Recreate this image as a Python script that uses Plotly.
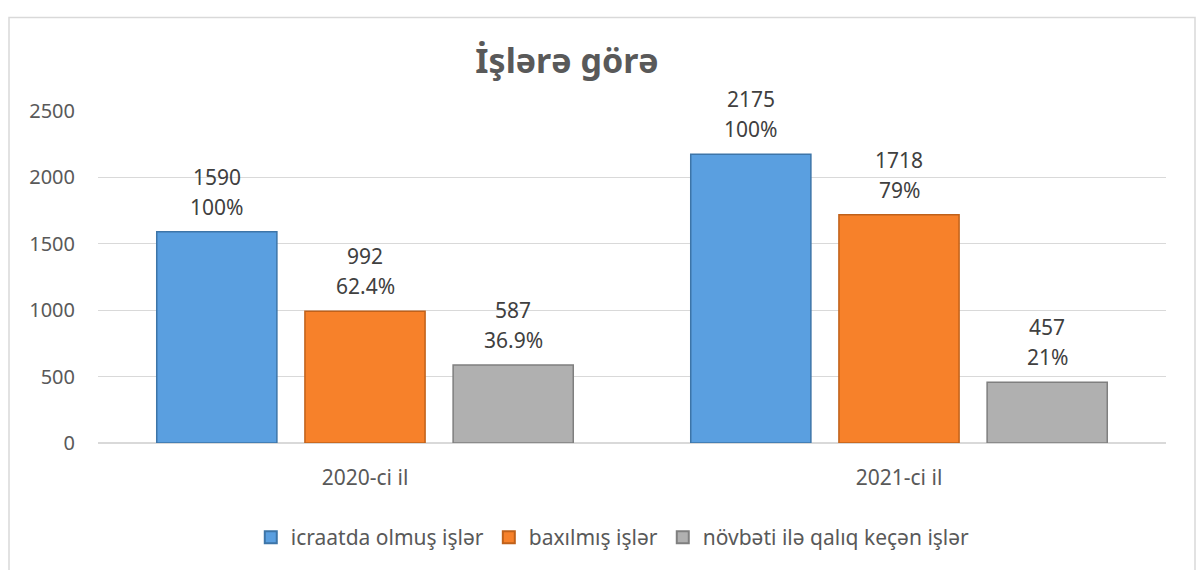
import plotly.graph_objects as go

categories = ["2020-ci il", "2021-ci il"]
series_names = ["icraatda olmuş işlər", "baxılmış işlər", "növbəti ilə qalıq keçən işlər"]
values_icraat = [1590, 2175]
values_baxilmis = [992, 1718]
values_qaliq = [587, 457]
pct_icraat = ["100%", "100%"]
pct_baxilmis = ["62.4%", "79%"]
pct_qaliq = ["36.9%", "21%"]
y_ticks = [0, 500, 1000, 1500, 2000, 2500]

all_values = [values_icraat, values_baxilmis, values_qaliq]
all_pcts = [pct_icraat, pct_baxilmis, pct_qaliq]
fill_colors = ["#5a9fe0", "#f7812a", "#b0b0b0"]
edge_colors = ["#3d75a8", "#c0611a", "#7f7f7f"]

slot = 0.2775
bar_w = 0.225
font_family = "Noto Sans, Open Sans, sans-serif"

fig = go.Figure()
annotations = []
for t, (name, vals, pcts) in enumerate(zip(series_names, all_values, all_pcts)):
    xs = [g + (t - 1) * slot for g in range(len(categories))]
    fig.add_trace(go.Bar(
        x=xs, y=vals, name=name, width=bar_w,
        marker=dict(color=fill_colors[t], line=dict(color=edge_colors[t], width=1.5)),
        hoverinfo="y+name",
    ))
    for x, v, p in zip(xs, vals, pcts):
        annotations.append(dict(x=x, y=v, xref="x", yref="y", text=str(v), showarrow=False,
                                yanchor="middle", yshift=55,
                                font=dict(size=21, color="#404040", family=font_family)))
        annotations.append(dict(x=x, y=v, xref="x", yref="y", text=p, showarrow=False,
                                yanchor="middle", yshift=25,
                                font=dict(size=21, color="#404040", family=font_family)))

fig.update_layout(
    width=1200, height=570,
    margin=dict(l=98, r=34, t=111, b=111),
    paper_bgcolor="white", plot_bgcolor="white",
    font=dict(family=font_family, color="#595959"),
    title=dict(text="<b>İşlərə görə</b>", x=0.4725, xref="container", xanchor="center",
               y=0.893, yref="container", yanchor="middle",
               font=dict(size=34, color="#595959", family=font_family)),
    showlegend=True,
    legend=dict(orientation="h", x=0.482, xanchor="center", y=-0.285, yanchor="middle",
                font=dict(size=21, color="#595959", family=font_family),
                itemsizing="constant"),
    annotations=annotations,
    shapes=[dict(type="rect", xref="paper", yref="paper",
                 x0=(9 - 98) / 1068, x1=(1195 - 98) / 1068,
                 y0=-0.4, y1=(451 - 5) / 348,
                 line=dict(color="#d9d9d9", width=1.5), layer="below")],
)
fig.update_xaxes(range=[-0.5, 1.5], tickvals=list(range(len(categories))), ticktext=categories,
                 showgrid=False, zeroline=False, showline=False, ticks="",
                 tickfont=dict(size=21, color="#595959"), ticklabelstandoff=20)
fig.update_yaxes(range=[0, 2500], tickvals=y_ticks, showgrid=True, gridcolor="#d9d9d9",
                 gridwidth=1.2, zeroline=True, zerolinecolor="#d9d9d9", zerolinewidth=1.5,
                 showline=False, ticks="", tickfont=dict(size=20, color="#595959"),
                 ticklabelstandoff=22)

fig.write_html("out.html", config={"displayModeBar": False},
               post_script="document.body.style.margin='0';")
